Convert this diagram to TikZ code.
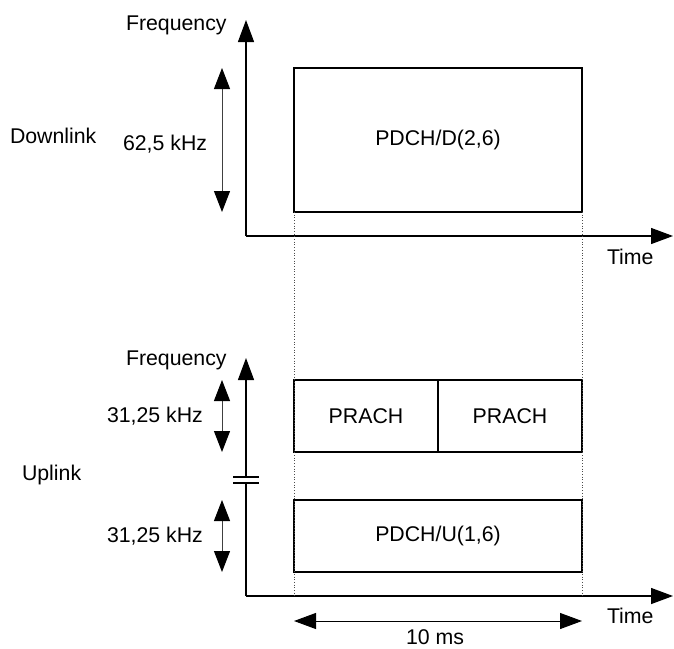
\documentclass[tikz,border=0pt]{standalone}
\usepackage{fontspec}
\setmainfont{Liberation Sans}
\usetikzlibrary{arrows.meta}
\begin{document}
\begin{tikzpicture}[x=1pt,y=-1pt,
  every node/.style={font=\fontsize{21.3}{25}\selectfont, inner sep=0pt, outer sep=0pt},
  axis/.style={line width=1.3pt, -{Triangle[length=22pt,width=16pt]}},
  plainaxis/.style={line width=1.3pt},
  dblarrow/.style={line width=1pt, draw=black!75, {Triangle[length=21pt,width=16pt,color=black,fill=black]}-{Triangle[length=21pt,width=16pt,color=black,fill=black]}},
  chbox/.style={draw, line width=1.1pt, anchor=north west},
  guide/.style={draw=black!70, line width=0.7pt, dotted},
  lbl/.style={anchor=base west},
  clbl/.style={anchor=base}]
\useasboundingbox (0,0) rectangle (674,648);

% ---------- Downlink ----------
\coordinate (dO) at (246,236);
\coordinate (dY) at (246,20);
\coordinate (dX) at (673,236);
\draw[axis] (dO) -- (dY);
\draw[axis] (dO) -- (dX);

\node[chbox, minimum width=288pt, minimum height=144pt] (pdchd) at (294,68) {};
\node at (pdchd.center) (pdchdt) {PDCH/D(2,6)};

\coordinate (dAt) at (222,68);
\coordinate (dAb) at (222,212);
\draw[dblarrow] (dAt) -- (dAb);

\node[lbl] (dfreq) at (126,30) {Frequency};
\node[lbl] (dtime) at (607,264) {Time};
\node[lbl] (dl) at (10,143) {Downlink};
\node[lbl] (dkhz) at (123,150) {62,5 kHz};

% ---------- Uplink ----------
\coordinate (uO) at (246,596);
\coordinate (uB1) at (246,483);
\coordinate (uB2) at (246,477);
\coordinate (uY) at (246,358);
\coordinate (uX) at (673,596);
\draw[plainaxis] (uO) -- (uB1);
\draw[axis] (uB2) -- (uY);
\draw[axis] (uO) -- (uX);
\coordinate (bk1a) at (233,477);
\coordinate (bk1b) at (259,477);
\coordinate (bk2a) at (233,483);
\coordinate (bk2b) at (259,483);
\draw[line width=1.1pt] (bk1a) -- (bk1b);
\draw[line width=1.1pt] (bk2a) -- (bk2b);

\node[chbox, minimum width=144pt, minimum height=72pt] (prach1) at (294,380) {};
\node[chbox, minimum width=144pt, minimum height=72pt] (prach2) at (438,380) {};
\node at (prach1.center) (prach1t) {PRACH};
\node at (prach2.center) (prach2t) {PRACH};

\node[chbox, minimum width=288pt, minimum height=72pt] (pdchu) at (294,500) {};
\node at (pdchu.center) (pdchut) {PDCH/U(1,6)};

\coordinate (uA1t) at (222,380);
\coordinate (uA1b) at (222,452);
\draw[dblarrow] (uA1t) -- (uA1b);
\coordinate (uA2t) at (222,500);
\coordinate (uA2b) at (222,572);
\draw[dblarrow] (uA2t) -- (uA2b);

\node[lbl] (ufreq) at (126,365) {Frequency};
\node[lbl] (utime) at (607,623) {Time};
\node[lbl] (ul) at (22,480) {Uplink};
\node[lbl] (ukhz1) at (107,422) {31,25 kHz};
\node[lbl] (ukhz2) at (107,542) {31,25 kHz};

% ---------- guides ----------
\coordinate (gL) at (294,596);
\coordinate (gR) at (582,596);
\draw[guide] (pdchd.south west) -- (gL);
\draw[guide] (pdchd.south east) -- (gR);

\coordinate (tL) at (294,621);
\coordinate (tR) at (582,621);
\draw[line width=1pt, {Triangle[length=22pt,width=16pt]}-{Triangle[length=22pt,width=16pt]}] (tL) -- (tR);
\node[clbl] (tms) at (435,644) {10 ms};
\end{tikzpicture}
\end{document}
